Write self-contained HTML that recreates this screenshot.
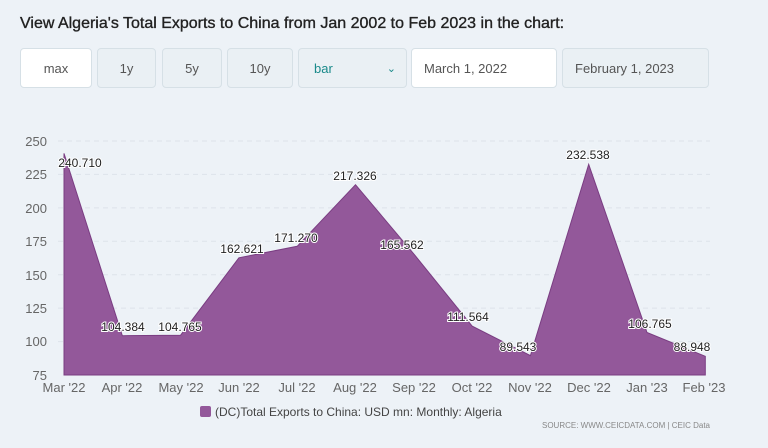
<!DOCTYPE html>
<html><head><meta charset="utf-8"><style>
body{margin:0;width:768px;height:448px;background:#edf2f7;font-family:"Liberation Sans",sans-serif;overflow:hidden;position:relative}
.t{position:absolute;left:20px;top:15px;font-size:16px;color:#222;-webkit-text-stroke:0.35px #222}
.b{position:absolute;top:48px;height:40px;border:1px solid #d6e0e6;border-radius:4px;background:#eaf0f4;box-sizing:border-box;font-size:13px;color:#555;display:flex;align-items:center;justify-content:center}
</style></head><body>
<div class="t">View Algeria's Total Exports to China from Jan 2002 to Feb 2023 in the chart:</div>
<div class="b" style="left:20px;width:72px;background:#fff">max</div>
<div class="b" style="left:97px;width:59px">1y</div>
<div class="b" style="left:162px;width:60px">5y</div>
<div class="b" style="left:227px;width:66px">10y</div>
<div class="b" style="left:298px;width:109px;justify-content:space-between;padding:0 10px 0 15px;color:#1a8a8a">bar<span style="font-size:11px">&#8964;</span></div>
<div class="b" style="left:411px;width:146px;background:#fff;justify-content:flex-start;padding-left:12px">March 1, 2022</div>
<div class="b" style="left:562px;width:147px;justify-content:flex-start;padding-left:12px">February 1, 2023</div>
<svg width="768" height="448" style="position:absolute;left:0;top:0" font-family="Liberation Sans, sans-serif">
<g stroke="#dde3ea" stroke-dasharray="5,4">
<line x1="58" x2="710" y1="141" y2="141"/><line x1="58" x2="710" y1="174.4" y2="174.4"/><line x1="58" x2="710" y1="207.9" y2="207.9"/><line x1="58" x2="710" y1="241.3" y2="241.3"/><line x1="58" x2="710" y1="274.7" y2="274.7"/><line x1="58" x2="710" y1="308.1" y2="308.1"/><line x1="58" x2="710" y1="341.6" y2="341.6"/>
</g>
<g font-size="13" fill="#666" text-anchor="end">
<text x="47" y="146">250</text><text x="47" y="179">225</text><text x="47" y="213">200</text><text x="47" y="246">175</text><text x="47" y="280">150</text><text x="47" y="313">125</text><text x="47" y="346">100</text><text x="47" y="380">75</text>
</g>
<polygon fill="#93589a" stroke="#7a3d82" stroke-width="1" points="64,375 64,153.4 122.3,335.7 180.6,335.2 238.9,257.8 297.2,246.3 355.5,184.7 413.8,253.9 472.1,326.1 530.4,355.6 588.7,164.4 647,332.5 705.3,356.3 705.3,375"/>
<g font-size="13" fill="#666" text-anchor="middle">
<text x="64" y="392">Mar '22</text><text x="122" y="392">Apr '22</text><text x="181" y="392">May '22</text><text x="239" y="392">Jun '22</text><text x="297" y="392">Jul '22</text><text x="355" y="392">Aug '22</text><text x="414" y="392">Sep '22</text><text x="472" y="392">Oct '22</text><text x="530" y="392">Nov '22</text><text x="589" y="392">Dec '22</text><text x="647" y="392">Jan '23</text><text x="704" y="392">Feb '23</text>
</g>
<g font-size="12" fill="#222" text-anchor="middle" stroke="#fff" stroke-width="2" paint-order="stroke">
<text x="80" y="167">240.710</text><text x="123" y="331">104.384</text><text x="180" y="331">104.765</text><text x="242" y="253">162.621</text><text x="296" y="242">171.270</text><text x="355" y="180">217.326</text><text x="402" y="249">165.562</text><text x="468" y="321">111.564</text><text x="518" y="351">89.543</text><text x="588" y="159">232.538</text><text x="650" y="328">106.765</text><text x="692" y="351">88.948</text>
</g>
<rect x="200" y="406" width="11" height="11" fill="#93589a" rx="2"/>
<text x="215" y="416" font-size="12" fill="#444">(DC)Total Exports to China: USD mn: Monthly: Algeria</text>
<text x="710" y="428" font-size="8" fill="#888" text-anchor="end">SOURCE: WWW.CEICDATA.COM | CEIC Data</text>
</svg>
</body></html>
